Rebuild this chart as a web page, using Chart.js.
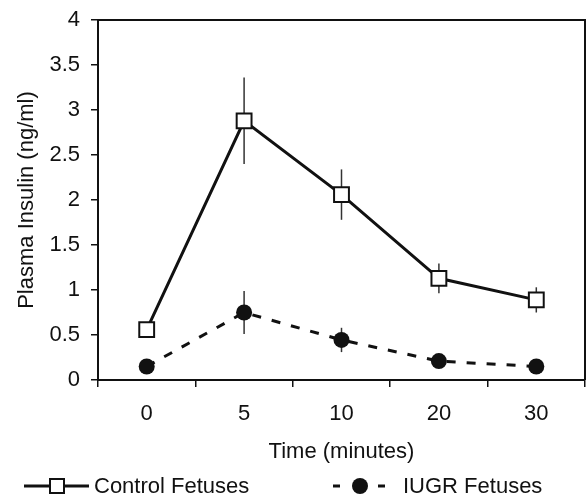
<!DOCTYPE html>
<html>
<head>
<meta charset="utf-8">
<script src="https://cdn.jsdelivr.net/npm/chart.js@4.4.1/dist/chart.umd.min.js"></script>
<style>
html,body{margin:0;padding:0;background:#fff;}
#wrap{width:588px;height:496px;position:relative;}
</style>
</head>
<body>
<div id="wrap"><canvas id="c" width="588" height="496"></canvas></div>
<script>
// ---- data ----
const categories = ['0', '5', '10', '20', '30'];
const controlMean = [0.56, 2.88, 2.06, 1.13, 0.89];
const controlSem  = [0.05, 0.48, 0.28, 0.165, 0.14];
const iugrMean    = [0.15, 0.75, 0.445, 0.21, 0.15];
const iugrSem     = [0.03, 0.24, 0.135, 0.04, 0.03];
const yTicks = [0, 0.5, 1, 1.5, 2, 2.5, 3, 3.5, 4];
const seriesNames = ['Control Fetuses', 'IUGR Fetuses'];
const xTitle = 'Time (minutes)';
const yTitle = 'Plasma Insulin (ng/ml)';

const FONT = '"Liberation Sans", Arial, sans-serif';
const FS = 22;
const INK = '#111';

const errorBars = {
  id: 'errorBars',
  beforeDatasetsDraw(chart) {
    const ctx = chart.ctx;
    const y = chart.scales.y;
    const sems = [controlSem, iugrSem];
    ctx.save();
    ctx.strokeStyle = '#333';
    ctx.lineWidth = 1.5;
    chart.data.datasets.forEach((ds, i) => {
      const meta = chart.getDatasetMeta(i);
      meta.data.forEach((pt, j) => {
        const v = ds.data[j], s = sems[i][j];
        ctx.beginPath();
        ctx.moveTo(pt.x, y.getPixelForValue(v + s));
        ctx.lineTo(pt.x, y.getPixelForValue(v - s));
        ctx.stroke();
      });
    });
    ctx.restore();
  }
};

const frameAndLegend = {
  id: 'frameAndLegend',
  afterDraw(chart) {
    const ctx = chart.ctx;
    const a = chart.chartArea;
    ctx.save();
    ctx.strokeStyle = INK;
    ctx.lineWidth = 2;
    ctx.beginPath();
    ctx.moveTo(a.left, a.top);
    ctx.lineTo(a.right, a.top);
    ctx.lineTo(a.right, a.bottom);
    ctx.stroke();

    // legend
    const ly = 486;
    ctx.font = FS + 'px ' + FONT;
    ctx.fillStyle = INK;
    ctx.textBaseline = 'middle';
    ctx.textAlign = 'left';
    // control
    ctx.lineWidth = 3;
    ctx.setLineDash([]);
    ctx.beginPath(); ctx.moveTo(24, ly); ctx.lineTo(89, ly); ctx.stroke();
    ctx.fillStyle = '#fff';
    ctx.lineWidth = 2;
    ctx.fillRect(50, ly - 7, 14, 14);
    ctx.strokeRect(50, ly - 7, 14, 14);
    ctx.fillStyle = INK;
    ctx.fillText(seriesNames[0], 94, ly + 1);
    // iugr
    ctx.lineWidth = 3;
    ctx.beginPath(); ctx.moveTo(333, ly); ctx.lineTo(340, ly); ctx.stroke();
    ctx.beginPath(); ctx.moveTo(378, ly); ctx.lineTo(385, ly); ctx.stroke();
    ctx.beginPath(); ctx.arc(360, ly, 8, 0, Math.PI * 2); ctx.fill();
    ctx.fillText(seriesNames[1], 403, ly + 1);
    ctx.restore();
  }
};

new Chart(document.getElementById('c'), {
  type: 'line',
  data: {
    labels: categories,
    datasets: [
      {
        label: seriesNames[0],
        data: controlMean,
        borderColor: INK,
        borderWidth: 3,
        pointStyle: 'rect',
        pointRadius: 10.5,
        pointBackgroundColor: '#fff',
        pointBorderColor: INK,
        pointBorderWidth: 2,
        tension: 0
      },
      {
        label: seriesNames[1],
        data: iugrMean,
        borderColor: INK,
        borderWidth: 3,
        borderDash: [9, 11],
        pointStyle: 'circle',
        pointRadius: 8,
        pointBackgroundColor: INK,
        pointBorderColor: INK,
        pointBorderWidth: 0,
        tension: 0
      }
    ]
  },
  options: {
    responsive: false,
    animation: false,
    events: [],
    layout: { autoPadding: false, padding: { left: 0, right: 3, top: 20, bottom: 31 } },
    plugins: { legend: { display: false }, tooltip: { enabled: false } },
    scales: {
      x: {
        type: 'category',
        offset: true,
        grid: { display: true, drawOnChartArea: false, drawTicks: true, tickLength: 7, color: INK, lineWidth: 1.5, offset: true },
        border: { display: true, color: INK, width: 2 },
        ticks: { color: INK, font: { family: FONT, size: FS }, padding: 14 },
        title: { display: true, text: xTitle, color: INK, font: { family: FONT, size: FS }, padding: { top: 0, bottom: 0 } },
        afterFit(s) { s.height = 85; s.paddingLeft = 0; s.paddingRight = 0; }
      },
      y: {
        min: 0, max: 4,
        afterBuildTicks(s) { s.ticks = yTicks.map(v => ({ value: v })); },
        grid: { display: true, drawOnChartArea: false, drawTicks: true, tickLength: 7, color: INK, lineWidth: 1.5 },
        border: { display: true, color: INK, width: 2 },
        ticks: { color: INK, font: { family: FONT, size: FS }, padding: 11, callback: v => String(v) },
        title: { display: true, text: yTitle, color: INK, font: { family: FONT, size: FS }, padding: { top: 14, bottom: 0 } },
        afterFit(s) { s.width = 98; s.paddingTop = 0; s.paddingBottom = 0; }
      }
    }
  },
  plugins: [errorBars, frameAndLegend]
});
</script>
</body>
</html>
